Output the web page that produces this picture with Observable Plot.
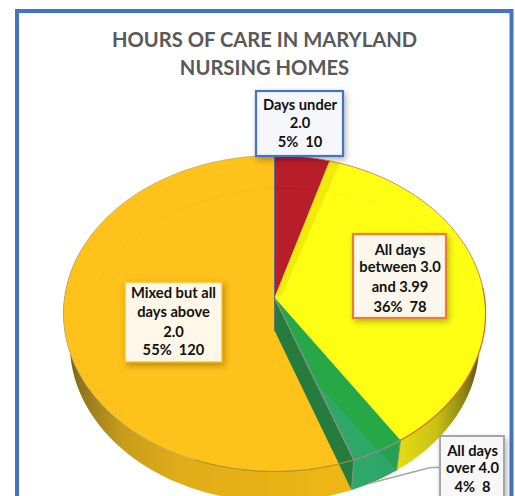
<!DOCTYPE html>
<html>
<head>
<meta charset="utf-8">
<style>html,body{margin:0;padding:0;background:#fff;overflow:hidden}svg{display:block}</style>
<script src="https://cdn.jsdelivr.net/npm/d3@7"></script>
<script src="https://cdn.jsdelivr.net/npm/@observablehq/plot@0.6"></script>
</head>
<body>
<script>
// Data
const sliceNames = ["Days under 2.0", "All days between 3.0 and 3.99", "All days over 4.0", "Mixed but all days above 2.0"];
const sliceCounts = [10, 78, 8, 120];
const titleLines = ["HOURS OF CARE IN MARYLAND", "NURSING HOMES"];
const labelRed = ["Days under", "2.0", "5%  10"];
const labelYellow = ["All days", "between 3.0", "and 3.99", "36%  78"];
const labelGreen = ["All days", "over 4.0", "4%  8"];
const labelOrange = ["Mixed but all", "days above", "2.0", "55%  120"];

// Layout
const W = 515, H = 496;
const FONT = "Lato, Carlito, 'Open Sans', sans-serif";
const apex = [274, 297], a = 210, b = 156.4, k = -0.101, depth = 30, shrink = 0.97;
const project = (deg, r = 1, low = false) => {
  const t = deg * Math.PI / 180, X = r * Math.sin(t), Y = -r * Math.cos(t), den = 1 + k * Y;
  const s = low ? shrink : 1;
  return [apex[0] + s * a * X / den, apex[1] + b * Y / den + (low ? depth : 0)];
};
const angles = d3.pie().sort(null)(sliceCounts).map(d => [d.startAngle * 180 / Math.PI, d.endAngle * 180 / Math.PI]);
const [redA, yelA, grnA, oraA] = angles;
const arc = (from, to, r = 1, low = false) => d3.range(0, 121).map(i => project(from + (to - from) * i / 120, r, low));
const wedge = (from, to) => [apex, ...arc(from, to)];
const wall = (from, to) => [...arc(from, to), ...arc(from, to, 1, true).reverse()];

const poly = (pts, fill, stroke = "none", strokeWidth = 0, opt = {}) =>
  Plot.line(pts, {x: d => d[0], y: d => d[1], fill, stroke, strokeWidth, curve: "linear", ...opt});
const edge = (pts, stroke, strokeWidth = 1, opt = {}) =>
  Plot.line(pts, {x: d => d[0], y: d => d[1], stroke, strokeWidth, curve: "linear", ...opt});

const defs = () => {
  const g = d3.create("svg:defs");
  const grad = (id, stops) => {
    const l = g.append("linearGradient").attr("id", id).attr("x1", 0).attr("x2", 1).attr("y1", 0).attr("y2", 0);
    stops.forEach(([o, c]) => l.append("stop").attr("offset", o).attr("stop-color", c));
  };
  grad("wallOrange", [[0, "#6f5a22"], [0.08, "#9a7c1e"], [0.2, "#c79c1c"], [0.4, "#e0ad18"], [1, "#f0b714"]]);
  grad("wallYellow", [[0, "#e6de12"], [0.45, "#c9c114"], [0.75, "#8e8814"], [1, "#45420f"]]);
  grad("wallGreen", [[0, "#2b9f62"], [1, "#25a14b"]]);
  return g.node();
};

const box = (cx, y1, y2, x1, x2, lines, ys, fill, stroke, sw) => [
  Plot.rect([0], {x1: () => x1, x2: () => x2, y1: () => y1, y2: () => y2, fill, stroke, strokeWidth: sw,
    imageFilter: "drop-shadow(2px 3px 3px rgba(0,0,0,0.28))"}),
  Plot.text(lines, {x: () => cx, y: (d, i) => ys[i], text: d => d, fontFamily: FONT, fontWeight: "bold", fontSize: 14.7, fill: "#111"})
];

const ring = d3.range(0, 101).map(i => {
  const t = Math.PI * (1.1 + 0.88 * i / 100);
  return [285 + 195 * Math.cos(t), 320 + 132 * Math.sin(t)];
});

const chart = Plot.plot({
  width: W, height: H, margin: 0,
  x: {domain: [0, W], range: [0, W], axis: null},
  y: {domain: [0, H], range: [0, H], axis: null},
  style: {background: "#fff"},
  marks: [
    defs,
    // frame
    Plot.rect([0], {x1: () => 17, x2: () => 511.5, y1: () => 11, y2: () => 540, fill: "none", stroke: "#4472c4", strokeWidth: 4}),
    // title
    Plot.text(titleLines, {x: () => 264, y: (d, i) => 40 + 28 * i, text: d => d, fontFamily: FONT, fontWeight: "bold", fontSize: 20.2, fill: "#595959"}),
    // side walls
    poly(wall(oraA[0], oraA[0] + 130), "url(#wallOrange)"),
    poly(wall(yelA[0] + 60, yelA[1]), "url(#wallYellow)"),
    poly(wall(grnA[0], grnA[1]), "url(#wallGreen)"),
    // top faces
    poly(wedge(...oraA), "#ffc21a"),
    poly(wedge(...yelA), "#ffff14"),
    poly([apex, project(redA[1]), project(redA[1] + 3.2), [apex[0] + 7, apex[1] - 2]], "#f2ea08"),
    poly(wedge(...grnA), "#27a846"),
    poly(wedge(...redA), "#b81d2a"),
    // highlight on the green slice
    poly([project(grnA[1], 0.55), project(grnA[1]), project(grnA[1], 1, true), project(grnA[0], 1, true)], "#2fa86c", "none", 0, {fillOpacity: 0.85}),
    // cut wall of the green slice
    poly([apex, [apex[0], apex[1] + 33], project(grnA[1], 1, true), project(grnA[1])], "#267c3c"),
    // faint inner ring and rim strokes
    edge(ring, "#000", 1, {strokeOpacity: 0.035}),
    edge(arc(oraA[0], oraA[1]), "#a8a070", 0.8, {strokeOpacity: 0.7}),
    edge(arc(yelA[0], yelA[0] + 70), "#c88c50", 1),
    edge(arc(yelA[0] + 70, yelA[1]), "#cf6a1c", 1.2),
    edge(arc(...redA), "#d08a3a", 1),
    edge(arc(oraA[0], oraA[0] + 40), "#a8901c", 1),
    edge([apex, project(0)], "#5f6a90", 1),
    edge([apex, project(grnA[1])], "#8a8f8a", 1.3),
    edge(arc(...grnA), "#8a8f8a", 1.3),
    edge([project(grnA[1]), project(grnA[1], 1, true)], "#8a8f8a", 1),
    edge([project(grnA[0]), project(grnA[0], 1, true)], "#8a8f8a", 1),
    edge([apex, [apex[0], apex[1] + 33]], "#5f6a70", 0.8),
    // leader line of the green label
    edge([project(grnA[1] - 5.2, 1, true), [430, 467], [441, 467]], "#a6a6a6", 1.5),
    // labels
    ...box(299.5, 91, 156, 256, 343, labelRed, [105, 123, 142], "#f5f7fb", "#4472c4", 2.2),
    ...box(399.5, 234, 318, 353, 446, labelYellow, [250, 267, 287, 307], "#fcf7ec", "#ed7d31", 2.2),
    ...box(173, 282, 362, 125, 222, labelOrange, [293, 312, 332, 350], "#fff7e8", "#ffc21a", 1.5),
    ...box(472, 436, 530, 440, 504, labelGreen, [451, 468, 487], "#f7f7f7", "#a6a6a6", 2)
  ]
});
document.body.append(chart);
</script>
</body>
</html>
